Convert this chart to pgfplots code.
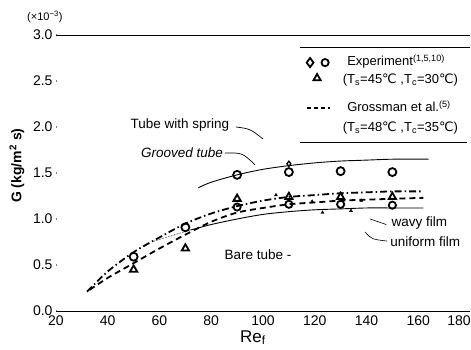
\documentclass[border=0pt]{standalone}
\usepackage{fontspec}
\setmainfont{Liberation Sans}
\newfontfamily\djv{DejaVu Sans}
\usepackage{pgfplots}
\pgfplotsset{compat=1.18}
\begin{document}
\begin{tikzpicture}
\useasboundingbox (-56pt,-38pt) rectangle (415pt,311pt);
\begin{axis}[
  at={(0,0)}, anchor=south west,
  scale only axis, width=414pt, height=276pt,
  xmin=20, xmax=180, ymin=0, ymax=3,
  axis x line*=bottom, axis y line*=left,
  y axis line style={draw=none},
  x axis line style={line width=1pt},
  xtick={20,40,60,80,100,120,140,160},
  extra x ticks={180},
  extra x tick style={xticklabel style={xshift=-11pt}},
  ytick={0,0.5,1,1.5,2,2.5,3},
  xtick style={draw=none},
  ytick style={line width=1.4pt},
  major tick length=1.4pt,
  y tick label style={/pgf/number format/fixed, /pgf/number format/fixed zerofill, /pgf/number format/precision=1},
  x tick label style={yshift=-1.5pt},
  /pgf/number format/assume math mode=true,
  tick label style={font=\fontsize{14}{16}\selectfont},
  clip=false,
]
% top frame line
\draw[line width=0.9pt] (axis cs:20,3) -- (axis cs:180,3);

% Tube with spring / grooved tube curve
\addplot[black, line width=0.9pt, smooth] coordinates {
(75,1.34)(80,1.40)(90,1.48)(100,1.54)(110,1.58)(120,1.61)(130,1.63)(140,1.64)(150,1.65)(164,1.65)};
% wavy film (dash-dot)
\addplot[black, line width=1.8pt, smooth, dash pattern=on 7pt off 3pt on 1.5pt off 3pt] coordinates {
(32,0.21)(40,0.43)(50,0.64)(60,0.80)(70,0.95)(80,1.06)(90,1.14)(100,1.20)(110,1.24)(120,1.26)(130,1.28)(140,1.29)(150,1.30)(162,1.30)};
% Grossman (dashed)
\addplot[black, line width=1.8pt, smooth, dash pattern=on 6pt off 4pt] coordinates {
(33,0.23)(40,0.36)(50,0.52)(60,0.68)(70,0.83)(80,0.97)(90,1.07)(100,1.12)(110,1.16)(120,1.18)(130,1.20)(140,1.21)(150,1.22)(162,1.23)};
% uniform film (thin dotted start then solid)
\addplot[black, line width=0.6pt, densely dotted] coordinates {(58,0.76)(66,0.83)(72,0.88)};
\addplot[black, line width=0.9pt, smooth] coordinates {
(72,0.88)(80,0.94)(90,1.00)(100,1.05)(110,1.08)(120,1.10)(130,1.11)(140,1.12)(150,1.12)(162,1.12)};

% experiment markers
\addplot[only marks, mark=o, mark size=4pt, line width=1.8pt, black] coordinates {
(50,0.59)(70,0.91)(90,1.48)(110,1.51)(130,1.52)(150,1.51)};
\addplot[only marks, mark=o, mark size=3.6pt, line width=1.8pt, black] coordinates {
(90,1.13)(110,1.16)(130,1.16)(150,1.15)};
\addplot[only marks, mark=triangle, mark size=4.2pt, line width=1.8pt, black] coordinates {
(50,0.45)(70,0.68)(90,1.22)(110,1.24)(130,1.24)(150,1.24)};
\addplot[only marks, mark=triangle*, mark size=1.8pt, black] coordinates {
(105,1.26)(119,1.19)(123,1.07)(134,1.09)(138,1.20)};
\addplot[only marks, mark=diamond, mark size=2.6pt, line width=1.3pt, black] coordinates {(110,1.60)};

% annotations
\node[font=\fontsize{13.5}{15}\selectfont] at (axis cs:67.9,2.02) {Tube with spring};
\draw[line width=0.7pt] (axis cs:89.6,2.0) .. controls (axis cs:95,1.98) .. (axis cs:100,1.87);
\node[font=\fontsize{13.5}{15}\selectfont\itshape] at (axis cs:68.7,1.72) {Grooved tube};
\draw[line width=0.7pt] (axis cs:85.3,1.717) .. controls (axis cs:92,1.72) .. (axis cs:96.9,1.59);
\node[font=\fontsize{13.5}{15}\selectfont] at (axis cs:98.1,0.61) {Bare tube -};
\node[font=\fontsize{13.5}{15}\selectfont, anchor=west] at (axis cs:148.3,0.955) {wavy film};
\draw[line width=0.6pt] (axis cs:141.4,1.0) -- (axis cs:147.6,0.94);
\node[font=\fontsize{13.5}{15}\selectfont, anchor=west] at (axis cs:147.9,0.75) {uniform film};
\draw[line width=0.6pt] (axis cs:139.4,0.86) .. controls (axis cs:142,0.78) .. (axis cs:148,0.76);

% legend box
\draw[line width=0.9pt] (axis cs:114.3,2.87) -- (axis cs:180,2.87);
\draw[line width=0.9pt] (axis cs:114.3,1.837) -- (axis cs:178.8,1.837);
\addplot[only marks, mark=diamond, mark size=4.6pt, line width=1.8pt, black] coordinates {(118.2,2.70)};
\addplot[only marks, mark=o, mark size=3.6pt, line width=1.8pt, black] coordinates {(124.0,2.70)};
\addplot[only marks, mark=triangle, mark size=4.2pt, line width=1.8pt, black] coordinates {(120.9,2.53)};
\addplot[black, line width=1.8pt, dash pattern=on 4pt off 3pt] coordinates {(117.0,2.207)(125.9,2.207)};
\node[font=\fontsize{13}{15}\selectfont, anchor=west] at (axis cs:131.2,2.71) {Experiment\textsuperscript{(1,5,10)}};
\node[font=\fontsize{13}{15}\selectfont, anchor=west] at (axis cs:129.5,2.51) {(T\textsubscript{s}=45{\djv ℃} ,T\textsubscript{c}=30{\djv ℃})};
\node[font=\fontsize{13}{15}\selectfont, anchor=west] at (axis cs:131.2,2.228) {Grossman et al.\textsuperscript{(5)}};
\node[font=\fontsize{13}{15}\selectfont, anchor=west] at (axis cs:129.5,1.99) {(T\textsubscript{s}=48{\djv ℃} ,T\textsubscript{c}=35{\djv ℃})};

% axis labels
\node[font=\fontsize{11}{13}\selectfont] at (axis cs:15.7,3.196) {(×10\textsuperscript{−3})};
\node[font=\fontsize{14}{16}\selectfont\bfseries, rotate=90] at (axis cs:4.9,1.58) {G (kg/m\textsuperscript{2} s)};
\node[font=\fontsize{17}{19}\selectfont] at (axis cs:96.1,-0.29) {Re\textsubscript{f}};
\end{axis}
\end{tikzpicture}
\end{document}
